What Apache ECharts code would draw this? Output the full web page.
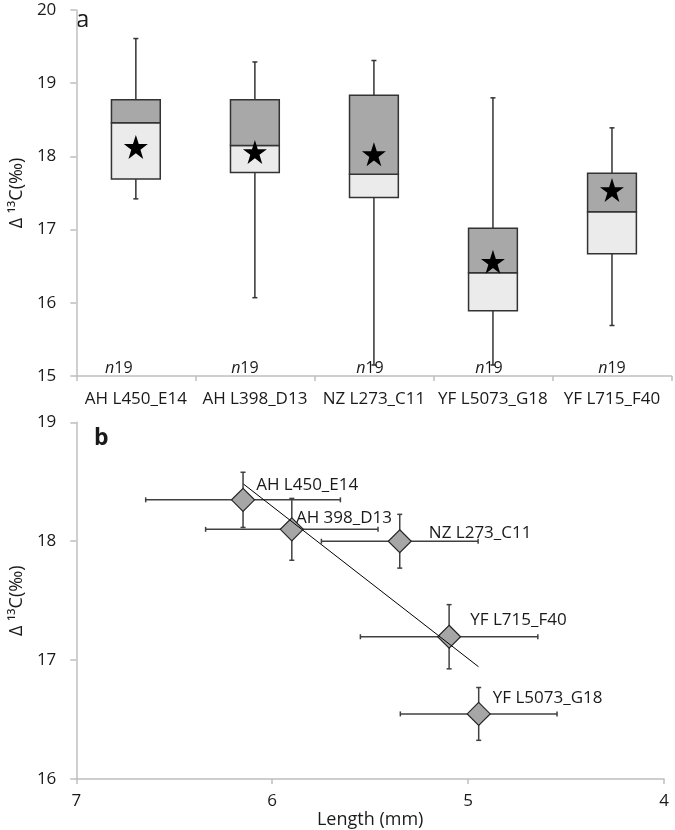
<!DOCTYPE html>
<html><head><meta charset="utf-8">
<script src="https://cdn.jsdelivr.net/npm/echarts@6/dist/echarts.min.js"></script>
<style>html,body{margin:0;padding:0;background:#fff}#c{width:675px;height:830px}</style>
</head><body><div id="c"></div>
<script>
// ---- Panel a: box plots ----
const categories = ['AH L450_E14', 'AH L398_D13', 'NZ L273_C11', 'YF L5073_G18', 'YF L715_F40'];
const whiskerMin = [17.42, 16.07, 15.15, 15.15, 15.69];
const q1 = [17.69, 17.78, 17.44, 15.89, 16.67];
const median = [18.46, 18.15, 17.755, 16.41, 17.245];
const q3 = [18.775, 18.775, 18.835, 17.02, 17.77];
const whiskerMax = [19.61, 19.29, 19.31, 18.80, 18.39];
const means = [18.13, 18.06, 18.03, 16.56, 17.54];
const sampleN = [19, 19, 19, 19, 19];

// ---- Panel b: length vs delta13C ----
const pointNames = ['AH L450_E14', 'AH 398_D13', 'NZ L273_C11', 'YF L715_F40', 'YF L5073_G18'];
const lengthMm = [6.149, 5.90, 5.349, 5.097, 4.946];
const lengthErr = [0.497, 0.44, 0.40, 0.453, 0.40];
const delta13C = [18.348, 18.10, 18.0, 17.197, 16.548];
const delta13CErr = [0.232, 0.26, 0.226, 0.27, 0.222];
const trendLength = [6.146, 4.947];
const trendDelta = [18.48, 16.945];

// layout constants (not data)
const FONT = 'Open Sans';
const TXT = '#1a1a1a';
const AXIS = '#bfbfbf';
const nLabelY = 15.11;
const nLabelDx = [-17, -10, -4, -4, 0];
const ptLabelOffset = [[1, -15], [-8, -11], [17, -8], [9, -17], [2, -16]];
const STAR = 'path://M12,0 L14.9,8.6 L24,8.6 L16.6,13.9 L19.4,22.6 L12,17.2 L4.6,22.6 L7.4,13.9 L0,8.6 L9.1,8.6 Z';
const yName = 'Δ ¹³C(‰)';

function lbl(margin) {
  return {show: true, fontFamily: FONT, fontSize: 17, color: TXT, margin: margin};
}
function nameStyle() {
  return {fontFamily: FONT, fontSize: 18, color: TXT};
}
function axLine() { return {show: true, lineStyle: {color: AXIS, width: 1.5}}; }
function axTick(len) { return {show: true, length: len, lineStyle: {color: AXIS, width: 1.5}}; }

const chart = echarts.init(document.getElementById('c'));
const option = {
  animation: false,
  grid: [
    {left: 69.5, top: 10, width: 602, height: 366},
    {left: 70.3, top: 422.3, width: 593.7, height: 367.7}
  ],
  xAxis: [
    {
      type: 'category', gridIndex: 0, data: categories,
      axisLine: axLine(), axisTick: axTick(5), splitLine: {show: false},
      axisLabel: Object.assign(lbl(15), {interval: 0})
    },
    {
      type: 'value', gridIndex: 1, min: 4, max: 7, interval: 1, inverse: true,
      name: 'Length (mm)', nameLocation: 'middle', nameGap: 15, nameTextStyle: nameStyle(),
      axisLine: axLine(), axisTick: axTick(5), splitLine: {show: false},
      axisLabel: lbl(14)
    }
  ],
  yAxis: [
    {
      type: 'value', gridIndex: 0, min: 15, max: 20, interval: 1,
      name: yName, nameLocation: 'middle', nameGap: 47, nameTextStyle: nameStyle(),
      axisLine: axLine(), axisTick: axTick(6), splitLine: {show: false},
      axisLabel: lbl(20)
    },
    {
      type: 'value', gridIndex: 1, min: 16, max: 19, interval: 1,
      name: yName, nameLocation: 'middle', nameGap: 47, nameTextStyle: nameStyle(),
      axisLine: axLine(), axisTick: axTick(6), splitLine: {show: false},
      axisLabel: lbl(20)
    }
  ],
  graphic: [
    {type: 'text', left: 76, top: 8, style: {text: 'a', fontFamily: FONT, fontSize: 24, fill: TXT}},
    {type: 'text', left: 94, top: 427, style: {text: 'b', fontFamily: FONT, fontSize: 23, fontWeight: 'bold', fill: TXT}}
  ],
  series: [
    {
      type: 'custom', xAxisIndex: 0, yAxisIndex: 0, z: 2,
      data: categories.map((c, i) => [i, whiskerMin[i], q1[i], median[i], q3[i], whiskerMax[i], sampleN[i]]),
      encode: {x: 0, y: [1, 2, 3, 4, 5]},
      renderItem: function (params, api) {
        const i = api.value(0);
        const pMin = api.coord([i, api.value(1)]);
        const pQ1 = api.coord([i, api.value(2)]);
        const pMed = api.coord([i, api.value(3)]);
        const pQ3 = api.coord([i, api.value(4)]);
        const pMax = api.coord([i, api.value(5)]);
        const pN = api.coord([i, nLabelY]);
        const bw = api.size([1, 0])[0] * 0.41;
        const cx = pMed[0];
        const line = {stroke: '#333', lineWidth: 1.5};
        const cap = 2.5;
        return {
          type: 'group',
          children: [
            {type: 'line', shape: {x1: cx, y1: pMax[1], x2: cx, y2: pQ3[1]}, style: line},
            {type: 'line', shape: {x1: cx, y1: pMin[1], x2: cx, y2: pQ1[1]}, style: line},
            {type: 'line', shape: {x1: cx - cap, y1: pMax[1], x2: cx + cap, y2: pMax[1]}, style: line},
            {type: 'line', shape: {x1: cx - cap, y1: pMin[1], x2: cx + cap, y2: pMin[1]}, style: line},
            {type: 'rect', shape: {x: cx - bw / 2, y: pMed[1], width: bw, height: pQ1[1] - pMed[1]},
              style: {fill: '#ebebeb', stroke: '#333', lineWidth: 1.5}},
            {type: 'rect', shape: {x: cx - bw / 2, y: pQ3[1], width: bw, height: pMed[1] - pQ3[1]},
              style: {fill: '#a8a8a8', stroke: '#333', lineWidth: 1.5}},
            {type: 'text', x: pN[0] + nLabelDx[params.dataIndex], y: pN[1], z2: 10,
              style: {
                text: '{i|n}{t|' + api.value(6) + '}',
                align: 'center', verticalAlign: 'middle',
                rich: {
                  i: {fontFamily: FONT, fontSize: 16, fontStyle: 'italic', fill: TXT},
                  t: {fontFamily: FONT, fontSize: 16, fill: TXT}
                }
              }}
          ]
        };
      }
    },
    {
      type: 'scatter', xAxisIndex: 0, yAxisIndex: 0, z: 4,
      symbol: STAR, symbolSize: 24,
      itemStyle: {color: '#000', opacity: 1},
      data: means.map((m, i) => [i, m])
    },
    {
      type: 'custom', xAxisIndex: 1, yAxisIndex: 1, z: 2,
      data: lengthMm.map((x, i) => [x, delta13C[i], lengthErr[i], delta13CErr[i]]),
      encode: {x: 0, y: 1},
      renderItem: function (params, api) {
        const x = api.value(0), y = api.value(1), ex = api.value(2), ey = api.value(3);
        const l = api.coord([x + ex, y]);
        const r = api.coord([x - ex, y]);
        const t = api.coord([x, y + ey]);
        const b = api.coord([x, y - ey]);
        const st = {stroke: '#404040', lineWidth: 1.5};
        const c = 2.5;
        return {
          type: 'group',
          children: [
            {type: 'line', shape: {x1: l[0], y1: l[1], x2: r[0], y2: r[1]}, style: st},
            {type: 'line', shape: {x1: t[0], y1: t[1], x2: b[0], y2: b[1]}, style: st},
            {type: 'line', shape: {x1: l[0], y1: l[1] - c, x2: l[0], y2: l[1] + c}, style: st},
            {type: 'line', shape: {x1: r[0], y1: r[1] - c, x2: r[0], y2: r[1] + c}, style: st},
            {type: 'line', shape: {x1: t[0] - c, y1: t[1], x2: t[0] + c, y2: t[1]}, style: st},
            {type: 'line', shape: {x1: b[0] - c, y1: b[1], x2: b[0] + c, y2: b[1]}, style: st}
          ]
        };
      }
    },
    {
      type: 'scatter', xAxisIndex: 1, yAxisIndex: 1, z: 3,
      symbol: 'diamond', symbolSize: 23,
      itemStyle: {color: '#a6a6a6', borderColor: '#262626', borderWidth: 1.2, opacity: 1},
      data: lengthMm.map((x, i) => ({
        value: [x, delta13C[i]],
        name: pointNames[i],
        label: {offset: ptLabelOffset[i]}
      })),
      label: {
        show: true, position: 'right', distance: 0,
        formatter: p => p.name,
        fontFamily: FONT, fontSize: 17, color: TXT
      }
    },
    {
      type: 'line', xAxisIndex: 1, yAxisIndex: 1, z: 6,
      symbol: 'none', silent: true,
      lineStyle: {color: '#000', width: 1},
      data: trendLength.map((x, i) => [x, trendDelta[i]])
    }
  ]
};
chart.setOption(option);
</script>
</body></html>
